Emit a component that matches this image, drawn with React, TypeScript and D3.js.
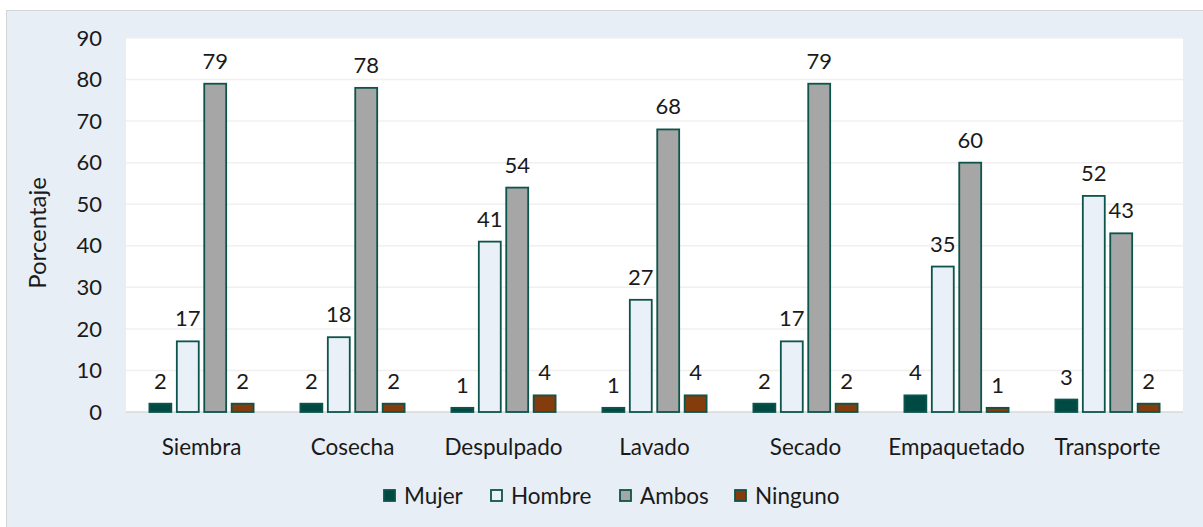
import React, { useEffect } from 'react';
import * as d3 from 'd3';

const categories = ['Siembra', 'Cosecha', 'Despulpado', 'Lavado', 'Secado', 'Empaquetado', 'Transporte'];
const seriesNames = ['Mujer', 'Hombre', 'Ambos', 'Ninguno'];
const mujer = [2, 2, 1, 1, 2, 4, 3];
const hombre = [17, 18, 41, 27, 17, 35, 52];
const ambos = [79, 78, 54, 68, 79, 60, 43];
const ninguno = [2, 2, 4, 4, 2, 1, 2];
const yTicks = [0, 10, 20, 30, 40, 50, 60, 70, 80, 90];

const seriesValues = [mujer, hombre, ambos, ninguno];
const fills = ['#004a43', '#e9f0f7', '#a6a6a6', '#843c0c'];
const stroke = '#0d544c';
const font = 'Lato, "Open Sans", sans-serif';

const W = 1203;
const H = 527;
const margin = { left: 126, right: 20, top: 38, bottom: 115 };

export default function App() {
  useEffect(() => {
    document.body.style.margin = '0';
  }, []);

  const x0 = d3.scaleBand().domain(categories).range([margin.left, W - margin.right]).paddingInner(0.31).paddingOuter(0.155);
  const x1 = d3.scaleBand().domain(seriesNames).range([0, x0.bandwidth()]).paddingInner(0.2);
  const y = d3.scaleLinear().domain([0, 90]).range([H - margin.bottom, margin.top]);

  const legendX = [383, 490, 619, 734];

  return (
    <svg width={W} height={H} style={{ display: 'block', fontFamily: font }}>
      <rect x={6.5} y={10.5} width={W - 6} height={H - 10} fill="#e8eef5" stroke="#d4d4d4" strokeWidth={1} />
      <rect x={margin.left} y={margin.top} width={W - margin.right - margin.left} height={y(0) - margin.top} fill="#ffffff" />
      {yTicks.map(t => (
        <g key={t}>
          {t > 0 && (
            <line x1={margin.left} x2={W - margin.right} y1={y(t)} y2={y(t)} stroke="#f0f0f0" strokeWidth={1.5} />
          )}
          <text x={102} y={y(t)} dy="0.35em" textAnchor="end" fontSize={22} fill="#1a1a1a">{t}</text>
        </g>
      ))}
      <line x1={margin.left} x2={W - margin.right} y1={y(0)} y2={y(0)} stroke="#d9d9d9" strokeWidth={1.5} />
      <text transform={`translate(46,${(margin.top + y(0)) / 2 + 8}) rotate(-90)`} textAnchor="middle" fontSize={24} fill="#1a1a1a">Porcentaje</text>

      {categories.map((c, ci) => (
        <g key={c}>
          {seriesValues.map((vals, si) => {
            const v = vals[ci];
            const bx = (x0(c) as number) + (x1(seriesNames[si]) as number);
            const by = y(v);
            return (
              <g key={si}>
                <rect x={bx} y={by} width={x1.bandwidth()} height={y(0) - by} fill={fills[si]} stroke={stroke} strokeWidth={1.8} />
                <text x={bx + x1.bandwidth() / 2} y={by - 15} textAnchor="middle" fontSize={22} fill="#1a1a1a">{v}</text>
              </g>
            );
          })}
          <text x={(x0(c) as number) + x0.bandwidth() / 2} y={455} textAnchor="middle" fontSize={22.5} fill="#1a1a1a">{c}</text>
        </g>
      ))}

      {seriesNames.map((s, i) => (
        <g key={s}>
          <rect x={legendX[i] + 1} y={490} width={11} height={11} fill={fills[i]} stroke={stroke} strokeWidth={1.8} />
          <text x={legendX[i] + 21} y={496} dy="0.35em" fontSize={22.5} fill="#1a1a1a">{s}</text>
        </g>
      ))}
    </svg>
  );
}
